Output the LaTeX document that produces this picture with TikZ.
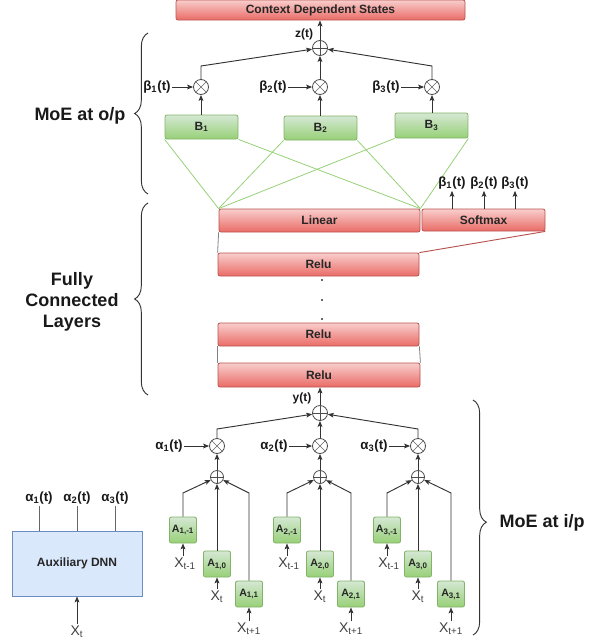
\documentclass[tikz,border=0pt]{standalone}
\usepackage{fontspec}
\setmainfont{Liberation Sans}
\usetikzlibrary{arrows.meta,decorations.pathreplacing}
\definecolor{redtop}{HTML}{F8CECC}
\definecolor{redbot}{HTML}{EA6B66}
\definecolor{redline}{HTML}{B85450}
\definecolor{greentop}{HTML}{D5E8D4}
\definecolor{greenbot}{HTML}{97D077}
\definecolor{greenline}{HTML}{82B366}
\definecolor{bluefill}{HTML}{DAE8FC}
\definecolor{blueline}{HTML}{6C8EBF}
\begin{document}
\begin{tikzpicture}[x=0.75pt,y=-0.75pt,
  redbox/.style={draw=redline, top color=redtop, bottom color=redbot, rounded corners=1.5pt, inner sep=0pt, line width=0.6pt, text=black!85, font=\fontsize{9}{10}\selectfont\bfseries},
  greenbox/.style={draw=greenline, top color=greentop, bottom color=greenbot, rounded corners=1.5pt, inner sep=0pt, line width=0.6pt, text=black!85, font=\fontsize{9}{10}\selectfont\bfseries},
  abox/.style={greenbox, minimum width=20.25pt, minimum height=19.5pt, font=\fontsize{8}{9}\selectfont\bfseries},
  auxbox/.style={draw=blueline, fill=bluefill, inner sep=0pt, line width=0.6pt, text=black!85, font=\fontsize{9}{10}\selectfont\bfseries},
  opcirc/.style={circle, draw=black!70, fill=white, minimum size=11.25pt, inner sep=0pt, line width=0.6pt},
  optimes/.style={opcirc, path picture={\draw[black!60, line width=0.5pt] (path picture bounding box.north west) -- (path picture bounding box.south east) (path picture bounding box.north east) -- (path picture bounding box.south west);}},
  opplus/.style={opcirc, path picture={\draw[black!70, line width=0.5pt] (path picture bounding box.north) -- (path picture bounding box.south) (path picture bounding box.west) -- (path picture bounding box.east);}},
  smallplus/.style={opplus, minimum size=9.75pt},
  arr/.style={draw=black!80, line width=0.7pt, -{Stealth[length=4.5pt,width=3.6pt,inset=1pt]}},
  plain/.style={draw=black!60, line width=0.6pt},
  gline/.style={draw=greenbot, line width=0.6pt},
  sideline/.style={draw=black!50, line width=0.6pt},
  lab/.style={inner sep=1pt, text=black!90, font=\fontsize{9}{10}\selectfont\bfseries},
  glab/.style={inner sep=1pt, text=black!90, font=\fontsize{10}{11}\selectfont\bfseries},
  xlab/.style={inner sep=1pt, text=black!75, font=\fontsize{10.5}{11}\selectfont},
  biglab/.style={text=black!90, font=\fontsize{13.5}{15.5}\selectfont\bfseries},
  bracestyle/.style={draw=black!80, line width=0.7pt, decorate, decoration={brace, amplitude=10pt}}
]
\useasboundingbox (0,0) rectangle (601,643);

% ---------- top: output MoE ----------
\node[redbox, minimum width=216.75pt, minimum height=15pt] (cds) at (320.5,10) {Context Dependent States};
\node[opplus] (zp) at (320,48) {};
\draw[arr] (zp) -- (zp |- cds.south);
\node[lab] (zl) at (304,34) {z(t)};

\node[greenbox, minimum width=54.75pt, minimum height=18pt] (B1) at (201.5,127) {B\textsubscript{1}};
\node[greenbox, minimum width=54.75pt, minimum height=18pt] (B2) at (320.5,128) {B\textsubscript{2}};
\node[greenbox, minimum width=54.75pt, minimum height=18.75pt] (B3) at (431.5,125.5) {B\textsubscript{3}};
\node[optimes] (bp1) at (201,87) {};
\node[optimes] (bp2) at (320,87) {};
\node[optimes] (bp3) at (432,87) {};
\draw[arr] (bp1 |- B1.north) -- (bp1);
\draw[arr] (bp2 |- B2.north) -- (bp2);
\draw[arr] (bp3 |- B3.north) -- (bp3);
\coordinate (k1) at (201,66);
\coordinate (k3) at (432,66);
\draw[arr] (bp1) -- (k1) -- (zp);
\draw[arr] (bp2) -- (zp);
\draw[arr] (bp3) -- (k3) -- (zp);
\node[glab] (bl1) at (157,87) {β\textsubscript{1}(t)};
\node[glab] (bl2) at (273,87) {β\textsubscript{2}(t)};
\node[glab] (bl3) at (386,87) {β\textsubscript{3}(t)};
\draw[arr] (bl1) -- (bp1);
\draw[arr] (bl2) -- (bp2);
\draw[arr] (bl3) -- (bp3);

% ---------- fully connected ----------
\node[redbox, minimum width=150.75pt, minimum height=17.25pt] (lin) at (319.5,220.5) {Linear};
\node[redbox, minimum width=92.25pt, minimum height=16.5pt] (smax) at (483.5,220) {Softmax};
\draw[gline] (B1.south west) -- (lin.north west);
\draw[gline] (B1.south east) -- (lin.north east);
\draw[gline] (B2.south west) -- (lin.north west);
\draw[gline] (B2.south east) -- (lin.north east);
\draw[gline] (B3.south west) -- (lin.north west);
\draw[gline] (B3.south east) -- (lin.north east);

\node[glab] (sb1) at (452,183) {β\textsubscript{1}(t)};
\node[glab] (sb2) at (484,183) {β\textsubscript{2}(t)};
\node[glab] (sb3) at (515,183) {β\textsubscript{3}(t)};
\draw[arr] (smax.north -| sb1) -- (sb1);
\draw[arr] (smax.north -| sb2) -- (sb2);
\draw[arr] (smax.north -| sb3) -- (sb3);

\node[redbox, minimum width=150.75pt, minimum height=17.25pt] (r1) at (318.5,264.5) {Relu};
\node[redbox, minimum width=150.75pt, minimum height=17.25pt] (r2) at (318.5,334.5) {Relu};
\node[redbox, minimum width=151.5pt, minimum height=18pt] (r3) at (319,375) {Relu};
\draw[sideline] (lin.south west) -- (r1.north west);
\draw[draw=redline, line width=0.7pt] (r1.north east) -- (smax.south east);
\draw[sideline] (r2.south west) -- (r3.north west);
\draw[sideline] (r2.south east) -- (r3.north east);
\fill[black!80] (322,280) circle (0.9pt);
\fill[black!80] (322,300) circle (0.9pt);
\fill[black!80] (322,319) circle (0.9pt);

% ---------- input MoE ----------
\node[opplus] (yp) at (320,413) {};
\draw[arr] (yp) -- (yp |- r3.south);
\node[lab] (yl) at (302,398) {y(t)};

\node[optimes] (ap1) at (217,446) {};
\node[optimes] (ap2) at (320,446) {};
\node[optimes] (ap3) at (418,446) {};
\coordinate (m1) at (217,429);
\coordinate (m3) at (418,429);
\draw[arr] (ap1) -- (m1) -- (yp);
\draw[arr] (ap2) -- (yp);
\draw[arr] (ap3) -- (m3) -- (yp);
\node[glab] (al1) at (169,446) {α\textsubscript{1}(t)};
\node[glab] (al2) at (274,446) {α\textsubscript{2}(t)};
\node[glab] (al3) at (374,446) {α\textsubscript{3}(t)};
\draw[arr] (al1) -- (ap1);
\draw[arr] (al2) -- (ap2);
\draw[arr] (al3) -- (ap3);

\node[smallplus] (as1) at (217,477) {};
\node[smallplus] (as2) at (320,477) {};
\node[smallplus] (as3) at (418,477) {};
\draw[arr] (as1) -- (ap1);
\draw[arr] (as2) -- (ap2);
\draw[arr] (as3) -- (ap3);

% group 1
\node[abox] (a1m) at (183,530) {A\textsubscript{1,-1}};
\node[abox] (a10) at (217,564) {A\textsubscript{1,0}};
\node[abox] (a11) at (249,594) {A\textsubscript{1,1}};
\coordinate (t1l) at (183,493);
\coordinate (t1r) at (249,493);
\draw[arr] (a1m) -- (t1l) -- (as1);
\draw[arr] (a10) -- (as1);
\draw[arr] (a11) -- (t1r) -- (as1);
\node[xlab] (x1m) at (185,564) {X\textsubscript{t-1}};
\node[xlab] (x10) at (217,597) {X\textsubscript{t}};
\node[xlab] (x11) at (249,629) {X\textsubscript{t+1}};
\draw[arr] (a1m |- x1m.north) -- (a1m);
\draw[arr] (x10) -- (a10);
\draw[arr] (x11) -- (a11);

% group 2
\node[abox] (a2m) at (287,530) {A\textsubscript{2,-1}};
\node[abox] (a20) at (320,564) {A\textsubscript{2,0}};
\node[abox] (a21) at (351,594) {A\textsubscript{2,1}};
\coordinate (t2l) at (287,493);
\coordinate (t2r) at (351,493);
\draw[arr] (a2m) -- (t2l) -- (as2);
\draw[arr] (a20) -- (as2);
\draw[arr] (a21) -- (t2r) -- (as2);
\node[xlab] (x2m) at (289,564) {X\textsubscript{t-1}};
\node[xlab] (x20) at (320,597) {X\textsubscript{t}};
\node[xlab] (x21) at (351,629) {X\textsubscript{t+1}};
\draw[arr] (a2m |- x2m.north) -- (a2m);
\draw[arr] (x20) -- (a20);
\draw[arr] (x21) -- (a21);

% group 3
\node[abox] (a3m) at (387,530) {A\textsubscript{3,-1}};
\node[abox] (a30) at (418,564) {A\textsubscript{3,0}};
\node[abox] (a31) at (451,594) {A\textsubscript{3,1}};
\coordinate (t3l) at (387,493);
\coordinate (t3r) at (451,493);
\draw[arr] (a3m) -- (t3l) -- (as3);
\draw[arr] (a30) -- (as3);
\draw[arr] (a31) -- (t3r) -- (as3);
\node[xlab] (x3m) at (389,564) {X\textsubscript{t-1}};
\node[xlab] (x30) at (418,597) {X\textsubscript{t}};
\node[xlab] (x31) at (451,629) {X\textsubscript{t+1}};
\draw[arr] (a3m |- x3m.north) -- (a3m);
\draw[arr] (x30) -- (a30);
\draw[arr] (x31) -- (a31);

% ---------- auxiliary DNN ----------
\node[auxbox, minimum width=97.5pt, minimum height=48.75pt] (aux) at (77,563.5) {Auxiliary DNN};
\node[glab] (xa1) at (39,498) {α\textsubscript{1}(t)};
\node[glab] (xa2) at (77,498) {α\textsubscript{2}(t)};
\node[glab] (xa3) at (115,498) {α\textsubscript{3}(t)};
\draw[plain] (aux.north -| xa1) -- (xa1);
\draw[plain] (aux.north -| xa2) -- (xa2);
\draw[plain] (aux.north -| xa3) -- (xa3);
\node[xlab] (xaux) at (77,632) {X\textsubscript{t}};
\draw[arr] (xaux) -- (xaux |- aux.south);

% ---------- braces ----------
\draw[bracestyle] (148,194) -- (148,33);
\node[biglab] (lo) at (80,116) {MoE at o/p};
\draw[bracestyle] (148,395) -- (148,203);
\node[biglab, align=center] (lf) at (72,302) {Fully\\Connected\\Layers};
\draw[bracestyle, decoration={aspect=0.52}] (473,400) -- (473,635);
\node[biglab, anchor=west] (li) at (495,523) {MoE at i/p};
\end{tikzpicture}
\end{document}
